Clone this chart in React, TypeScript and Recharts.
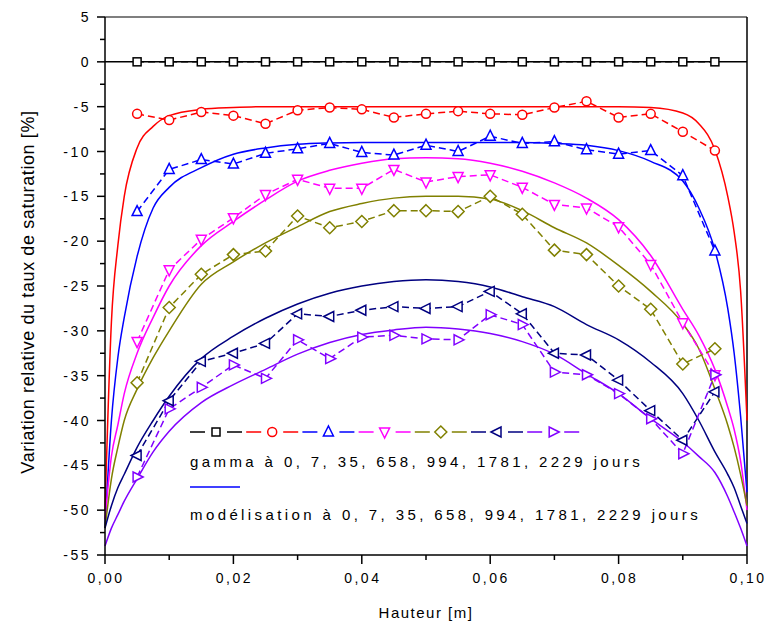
import React from "react";
import { LineChart, Line, XAxis, YAxis, ReferenceLine, Legend } from "recharts";

// hauteur (m) des mesures gamma
const measureX = [
  0.005, 0.01, 0.015, 0.02, 0.025, 0.03, 0.035, 0.04, 0.045, 0.05,
  0.055, 0.06, 0.065, 0.07, 0.075, 0.08, 0.085, 0.09, 0.095,
];

// mesures gamma (%)
const gamma0 = [0, 0, 0, 0, 0, 0, 0, 0, 0, 0, 0, 0, 0, 0, 0, 0, 0, 0, 0];
const gamma7 = [-5.8, -6.5, -5.6, -6.0, -6.9, -5.4, -5.1, -5.3, -6.2, -5.8, -5.5, -5.8, -5.9, -5.1, -4.4, -6.2, -5.8, -7.8, -9.9];
const gamma35 = [-16.7, -12.0, -10.9, -11.4, -10.2, -9.7, -9.1, -10.1, -10.4, -9.3, -10.0, -8.3, -9.1, -8.9, -9.8, -10.3, -9.9, -12.7, -21.1];
const gamma658 = [-31.2, -23.2, -19.8, -17.4, -14.8, -13.1, -14.1, -14.1, -12.0, -13.4, -12.8, -12.6, -14.0, -15.9, -16.3, -18.4, -22.6, -29.1, -34.9];
const gamma994 = [-35.8, -27.4, -23.7, -21.5, -21.1, -17.2, -18.5, -17.8, -16.6, -16.6, -16.7, -15.0, -17.0, -21.0, -21.5, -25.0, -27.6, -33.7, -32.0];
const gamma1781 = [-43.9, -37.8, -33.4, -32.5, -31.4, -28.1, -28.4, -27.7, -27.3, -27.5, -27.3, -25.6, -28.1, -32.5, -32.7, -35.5, -38.9, -42.2, -36.8];
const gamma2229 = [-46.3, -38.7, -36.3, -33.8, -35.3, -31.0, -33.1, -30.7, -30.5, -30.9, -31.0, -28.2, -29.3, -34.6, -34.9, -37.0, -39.8, -43.7, -34.9];

// hauteur (m) des courbes de modélisation
const modelX = [
  0, 0.001, 0.002, 0.003, 0.005, 0.0075, 0.01, 0.015, 0.02, 0.025, 0.03, 0.035, 0.04, 0.045, 0.05,
  0.055, 0.06, 0.065, 0.07, 0.075, 0.08, 0.085, 0.09, 0.0925, 0.095, 0.097, 0.098, 0.099, 0.1,
];

// modélisation (%)
const model0 = [0, 0, 0, 0, 0, 0, 0, 0, 0, 0, 0, 0, 0, 0, 0, 0, 0, 0, 0, 0, 0, 0, 0, 0, 0, 0, 0, 0, 0];
const model7 = [-50, -29, -20.5, -15, -9.6, -7.2, -6.0, -5.3, -5.1, -5.0, -5.0, -5.0, -5.0, -5.0, -5.0, -5.0, -5.0, -5.0, -5.0, -5.0, -5.0, -5.1, -5.7, -6.9, -9.8, -15, -19, -25.5, -40];
const model35 = [-52, -40, -33, -28.5, -21.7, -16.3, -14.0, -11.8, -10.3, -9.6, -9.2, -9.05, -9.0, -9.0, -9.0, -9.0, -9.0, -9.0, -9.1, -9.3, -9.9, -11.1, -13.3, -16.3, -21, -27.5, -32.5, -39.5, -48];
const model658 = [-51, -44, -40.5, -37, -32.5, -28.5, -25, -20.5, -17.8, -15.4, -13.3, -12.1, -11.3, -10.8, -10.7, -10.8, -11.3, -12.2, -13.5, -15.2, -17.6, -21.6, -27.6, -30.5, -34.3, -38.5, -41, -44.5, -50];
const model994 = [-52, -46.5, -43, -40, -36.5, -33, -30, -24.8, -22.3, -20.2, -18.4, -16.7, -15.8, -15.2, -15.0, -15.0, -15.3, -16.6, -18.5, -20.2, -22.7, -25.6, -29.2, -32, -36.5, -40.5, -43, -46, -49.5];
const model1781 = [-52, -49.5, -47.5, -46, -43, -40, -37.3, -33.1, -30.6, -28.6, -27, -25.8, -25, -24.5, -24.3, -24.5, -25.1, -26.2, -27.3, -29.3, -31, -33.5, -37, -40, -43.5, -46, -47.5, -49.5, -51.5];
const model2229 = [-54, -52, -50.5, -49, -46.5, -43.5, -41.2, -38, -36, -34.3, -32.6, -31.3, -30.4, -29.9, -29.6, -29.8, -30.3, -31.2, -32.6, -34.8, -37, -39.8, -42.4, -44, -45.8, -48.5, -50.2, -52, -54];

const xTicks = [0, 0.01, 0.02, 0.03, 0.04, 0.05, 0.06, 0.07, 0.08, 0.09, 0.1];
const yTicks = [
  5, 2.5, 0, -2.5, -5, -7.5, -10, -12.5, -15, -17.5, -20, -22.5, -25, -27.5, -30,
  -32.5, -35, -37.5, -40, -42.5, -45, -47.5, -50, -52.5, -55,
];

const FONT = "'Liberation Sans', Arial, sans-serif";

type Shape = "square" | "circle" | "up" | "down" | "diamond" | "left" | "right";

const series: { key: string; color: string; shape: Shape; measured: number[]; model: number[] }[] = [
  { key: "0", color: "#000000", shape: "square", measured: gamma0, model: model0 },
  { key: "7", color: "#ff0000", shape: "circle", measured: gamma7, model: model7 },
  { key: "35", color: "#0000ff", shape: "up", measured: gamma35, model: model35 },
  { key: "658", color: "#ff00ff", shape: "down", measured: gamma658, model: model658 },
  { key: "994", color: "#808000", shape: "diamond", measured: gamma994, model: model994 },
  { key: "1781", color: "#000080", shape: "left", measured: gamma1781, model: model1781 },
  { key: "2229", color: "#8000ff", shape: "right", measured: gamma2229, model: model2229 },
];

function toPoints(xs: number[], ys: number[]) {
  return xs.map((x, i) => ({ x, y: ys[i] }));
}

function Marker({ shape, cx, cy, color }: { shape: Shape; cx: number; cy: number; color: string }) {
  const common = { fill: "#ffffff", stroke: color, strokeWidth: 1.5 };
  switch (shape) {
    case "square":
      return <rect x={cx - 4} y={cy - 4} width={8} height={8} {...common} />;
    case "circle":
      return <circle cx={cx} cy={cy} r={4.5} {...common} />;
    case "up":
      return <polygon points={`${cx},${cy - 6} ${cx - 5},${cy + 4} ${cx + 5},${cy + 4}`} {...common} />;
    case "down":
      return <polygon points={`${cx},${cy + 6} ${cx - 5},${cy - 4} ${cx + 5},${cy - 4}`} {...common} />;
    case "diamond":
      return <polygon points={`${cx},${cy - 6} ${cx + 6},${cy} ${cx},${cy + 6} ${cx - 6},${cy}`} {...common} />;
    case "left":
      return <polygon points={`${cx - 6},${cy} ${cx + 4},${cy - 5} ${cx + 4},${cy + 5}`} {...common} />;
    case "right":
      return <polygon points={`${cx + 6},${cy} ${cx - 4},${cy - 5} ${cx - 4},${cy + 5}`} {...common} />;
  }
  return null;
}

const YTick = (props: any) => {
  const { x, y, payload } = props;
  const v = payload.value as number;
  const major = v % 5 === 0;
  return (
    <g>
      <line x1={x - (major ? 8 : 5)} x2={x} y1={y} y2={y} stroke="#000" strokeWidth={1.5} />
      {major && (
        <text x={x - 14} y={y + 5} textAnchor="end" fontFamily={FONT} fontSize={14} letterSpacing={2.5} fill="#000">
          {String(v)}
        </text>
      )}
    </g>
  );
};

const XTick = (props: any) => {
  const { x, y, payload } = props;
  const v = payload.value as number;
  const major = Math.round(v * 100) % 2 === 0;
  return (
    <g>
      <line x1={x} x2={x} y1={y} y2={y + (major ? 9 : 5)} stroke="#000" strokeWidth={1.5} />
      {major && (
        <text x={x + 1} y={y + 28} textAnchor="middle" fontFamily={FONT} fontSize={14} letterSpacing={2.5} fill="#000">
          {v.toFixed(2).replace(".", ",")}
        </text>
      )}
    </g>
  );
};

const LegendBox = () => (
  <svg width={540} height={110} style={{ display: "block", overflow: "visible" }}>
    {series.map((s, i) => {
      const cx = 31 + i * 56.2;
      return (
        <g key={s.key}>
          <line x1={cx - 26} x2={cx - 11} y1={12} y2={12} stroke={s.color} strokeWidth={1.5} />
          <line x1={cx + 11} x2={cx + 26} y1={12} y2={12} stroke={s.color} strokeWidth={1.5} />
          <Marker shape={s.shape} cx={cx} cy={12} color={s.color} />
        </g>
      );
    })}
    <text x={5} y={47} fontFamily={FONT} fontSize={15} letterSpacing={3.4} fill="#000">
      gamma à 0, 7, 35, 658, 994, 1781, 2229 jours
    </text>
    <line x1={5} x2={55} y1={67} y2={67} stroke="#0000ff" strokeWidth={1.5} />
    <text x={5} y={100} fontFamily={FONT} fontSize={15} letterSpacing={3.4} fill="#000">
      modélisation à 0, 7, 35, 658, 994, 1781, 2229 jours
    </text>
  </svg>
);

export default function App() {
  return (
    <div style={{ position: "absolute", left: 0, top: 0, width: 766, height: 634, background: "#fff" }}>
      <LineChart width={766} height={634} margin={{ top: 17, right: 19, bottom: 0, left: 0 }}>
        <XAxis
          type="number"
          dataKey="x"
          domain={[0, 0.1]}
          ticks={xTicks}
          height={79}
          tickSize={0}
          tickMargin={0}
          tickLine={false}
          tick={<XTick />}
          interval={0}
          axisLine={{ stroke: "#000", strokeWidth: 1.5 }}
          label={{
            content: (p: any) => (
              <text
                x={p.viewBox.x + p.viewBox.width / 2}
                y={618}
                textAnchor="middle"
                fontFamily={FONT}
                fontSize={15}
                letterSpacing={1.5}
                fill="#000"
              >
                Hauteur [m]
              </text>
            ),
          }}
        />
        <YAxis
          type="number"
          domain={[-55, 5]}
          ticks={yTicks}
          width={105}
          tickSize={0}
          tickMargin={0}
          tickLine={false}
          tick={<YTick />}
          interval={0}
          axisLine={{ stroke: "#000", strokeWidth: 1.5 }}
          label={{
            content: () => (
              <text
                x={34}
                y={292}
                transform="rotate(-90, 34, 292)"
                textAnchor="middle"
                fontFamily={FONT}
                fontSize={18}
                letterSpacing={0.6}
                fill="#000"
              >
                Variation relative du taux de saturation [%]
              </text>
            ),
          }}
        />
        <ReferenceLine y={5} stroke="#000" strokeWidth={1.2} />
        <ReferenceLine x={0.1} stroke="#000" strokeWidth={1.5} />
        {series.map((s) => (
          <Line
            key={"m" + s.key}
            data={toPoints(modelX, s.model)}
            dataKey="y"
            type="monotone"
            stroke={s.color}
            strokeWidth={1.5}
            dot={false}
            activeDot={false}
            isAnimationActive={false}
            legendType="none"
          />
        ))}
        {series.map((s) => (
          <Line
            key={"g" + s.key}
            data={toPoints(measureX, s.measured)}
            dataKey="y"
            type="linear"
            stroke={s.color}
            strokeWidth={1.5}
            strokeDasharray="7 4"
            dot={(p: any) => <Marker key={p.index} shape={s.shape} cx={p.cx} cy={p.cy} color={s.color} />}
            activeDot={false}
            isAnimationActive={false}
            legendType="none"
          />
        ))}
        <Legend
          layout="horizontal"
          verticalAlign="middle"
          align="center"
          content={() => <LegendBox />}
          wrapperStyle={{ left: 185, top: 420, width: 540, height: 110 }}
        />
      </LineChart>
    </div>
  );
}
